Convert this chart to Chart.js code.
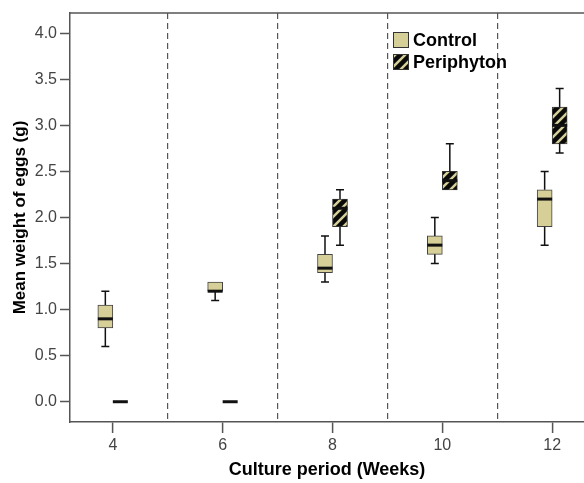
<!DOCTYPE html>
<html>
<head>
<meta charset="utf-8">
<script src="https://cdn.jsdelivr.net/npm/chart.js@4"></script>
<style>
  body { margin: 0; background: #fff; }
</style>
</head>
<body>
<canvas id="chart" width="584" height="483"></canvas>
<script>
// data
const weeks = [4, 6, 8, 10, 12];

const controlMin    = [0.6, 1.1, 1.3,  1.5, 1.7];
const controlQ1     = [0.8, 1.2, 1.4,  1.6, 1.9];
const controlMedian = [0.9, 1.2, 1.45, 1.7, 2.2];
const controlQ3     = [1.05, 1.3, 1.6, 1.8, 2.3];
const controlMax    = [1.2, 1.3, 1.8,  2.0, 2.5];

const periMin    = [0, 0, 1.7, 2.3, 2.7];
const periQ1     = [0, 0, 1.9, 2.3, 2.8];
const periMedian = [0, 0, 2.1, 2.4, 3.0];
const periQ3     = [0, 0, 2.2, 2.5, 3.2];
const periMax    = [0, 0, 2.3, 2.8, 3.4];

const beige = '#d6cf98';
const axisGrey = '#555';

const series = [
    { label: 'Control', min: controlMin, q1: controlQ1, med: controlMedian, q3: controlQ3, max: controlMax },
    { label: 'Periphyton', min: periMin, q1: periQ1, med: periMedian, q3: periQ3, max: periMax }
];

Chart.defaults.font.family = 'Arial, "Liberation Sans", sans-serif';

const canvas = document.getElementById('chart');
const ctx = canvas.getContext('2d');

// black box with beige "/" stripes
function makeHatch() {
    const c = document.createElement('canvas');
    c.width = 10; c.height = 10;
    const g = c.getContext('2d');
    g.fillStyle = '#0a0a0a';
    g.fillRect(0, 0, 10, 10);
    g.strokeStyle = beige;
    g.lineWidth = 2.5;
    g.beginPath();
    g.moveTo(-2, 12); g.lineTo(12, -2);
    g.moveTo(-2, 2); g.lineTo(2, -2);
    g.moveTo(8, 12); g.lineTo(12, 8);
    g.stroke();
    return ctx.createPattern(c, 'repeat');
}
const hatch = makeHatch();

const boxPlugin = {
    id: 'boxWhiskers',
    afterDatasetsDraw(chart) {
        const c = chart.ctx, y = chart.scales.y;
        series.forEach((s, di) => {
            const meta = chart.getDatasetMeta(di);
            meta.data.forEach((bar, i) => {
                const x = bar.x, half = bar.width / 2;
                c.save();
                c.strokeStyle = '#111';
                c.lineWidth = 1.5;
                [[s.q3[i], s.max[i]], [s.q1[i], s.min[i]]].forEach(([a, b]) => {
                    if (a === b) return;
                    const ya = y.getPixelForValue(a), yb = y.getPixelForValue(b);
                    c.beginPath();
                    c.moveTo(x, ya); c.lineTo(x, yb);
                    c.moveTo(x - 4, yb); c.lineTo(x + 4, yb);
                    c.stroke();
                });
                // median
                const ym = y.getPixelForValue(s.med[i]);
                c.lineWidth = 3;
                c.beginPath();
                c.moveTo(x - half, ym); c.lineTo(x + half, ym);
                c.stroke();
                c.restore();
            });
        });
    },
    afterDraw(chart) {
        const c = chart.ctx, a = chart.chartArea;
        c.save();
        // top frame line
        c.strokeStyle = axisGrey;
        c.lineWidth = 1.5;
        c.beginPath();
        c.moveTo(a.left, a.top); c.lineTo(a.right, a.top);
        c.stroke();
        // legend inside plot
        const lx = 393, ly = [32, 54];
        [beige, hatch].forEach((fill, k) => {
            c.fillStyle = fill;
            c.fillRect(lx, ly[k], 16, 16);
            c.strokeStyle = '#333';
            c.lineWidth = 1;
            c.strokeRect(lx + 0.5, ly[k] + 0.5, 15, 15);
            c.fillStyle = '#000';
            c.font = 'bold 18px Arial, "Liberation Sans", sans-serif';
            c.textBaseline = 'middle';
            c.fillText(series[k].label, lx + 20, ly[k] + 9);
        });
        c.restore();
    }
};

new Chart(ctx, {
    type: 'bar',
    data: {
        datasets: [
            {
                label: 'Control',
                data: weeks.map((w, i) => ({ x: w, y: [controlQ1[i], controlQ3[i]] })),
                backgroundColor: beige,
                borderColor: '#444',
                borderWidth: 1,
                borderSkipped: false,
                barThickness: 15
            },
            {
                label: 'Periphyton',
                data: weeks.map((w, i) => ({ x: w, y: [periQ1[i], periQ3[i]] })),
                backgroundColor: hatch,
                borderColor: '#333',
                borderWidth: 1,
                borderSkipped: false,
                barThickness: 15
            }
        ]
    },
    options: {
        responsive: false,
        animation: false,
        layout: { padding: { top: 13, right: 0, left: 0, bottom: 0 } },
        plugins: {
            legend: { display: false },
            tooltip: { enabled: false }
        },
        scales: {
            x: {
                type: 'linear',
                min: 3.22,
                max: 12.58,
                offset: false,
                afterFit: (scale) => { scale.height = 61; },
                ticks: {
                    stepSize: 1,
                    includeBounds: false,
                    autoSkip: false,
                    maxRotation: 0,
                    padding: 3,
                    color: '#444',
                    font: { size: 16 },
                    callback: (v) => (v % 2 === 0 ? String(v) : '')
                },
                grid: {
                    offset: false,
                    color: (ctx) => (ctx.tick && ctx.tick.value % 2 === 1 ? '#555' : 'rgba(0,0,0,0)'),
                    tickColor: (ctx) => (ctx.tick && ctx.tick.value % 2 === 0 ? axisGrey : 'rgba(0,0,0,0)'),
                    tickLength: 11,
                    tickWidth: 1.5,
                    lineWidth: 1.2
                },
                border: { color: axisGrey, width: 1.5, dash: [6, 4] },
                title: {
                    display: true,
                    text: 'Culture period (Weeks)',
                    color: '#000',
                    font: { size: 18, weight: 'bold' },
                    padding: { top: 0, bottom: 2 }
                }
            },
            y: {
                min: -0.22,
                max: 4.22,
                afterFit: (scale) => { scale.width = 70; },
                ticks: {
                    stepSize: 0.5,
                    includeBounds: false,
                    padding: 3,
                    color: '#444',
                    font: { size: 16 },
                    callback: (v) => v.toFixed(1)
                },
                grid: {
                    drawOnChartArea: false,
                    tickLength: 10,
                    tickWidth: 1.5,
                    tickColor: axisGrey
                },
                border: { color: axisGrey, width: 1.5 },
                title: {
                    display: true,
                    text: 'Mean weight of eggs (g)',
                    color: '#000',
                    font: { size: 17, weight: 'bold' },
                    padding: { top: 10, bottom: 0 }
                }
            }
        }
    },
    plugins: [boxPlugin]
});
</script>
</body>
</html>
